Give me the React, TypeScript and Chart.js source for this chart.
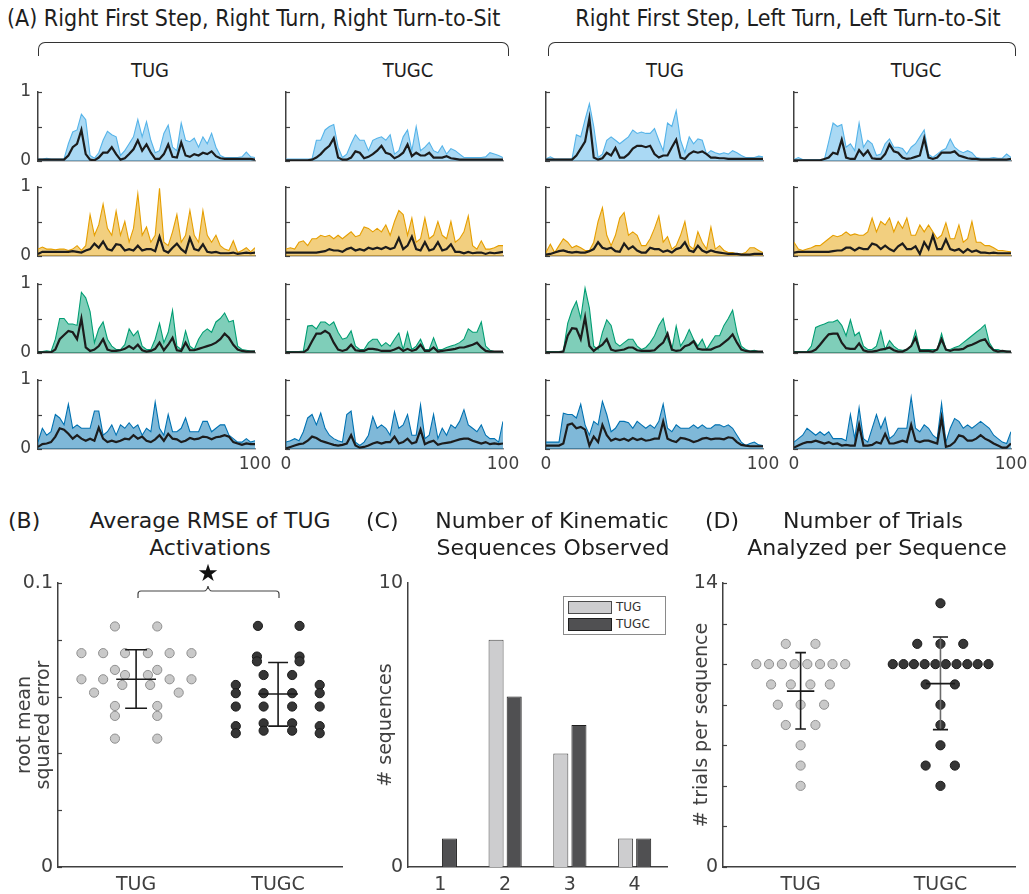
import React, { useEffect, useRef } from 'react';
import { Chart, registerables } from 'chart.js';

Chart.register(...registerables);

// ---------------- DATA ----------------
// Normalised time axis (% of task), sampled every 2 %
const XS = [0,2,4,6,8,10,12,14,16,18,20,22,24,26,28,30,32,34,36,38,40,42,44,46,48,50,52,54,56,58,60,62,64,66,68,70,72,74,76,78,80,82,84,86,88,90,92,94,96,98,100];

// Row 1 (light blue muscle)
const R1C1_MEAN = [0.02,0.02,0.02,0.02,0.02,0.02,0.02,0.08,0.2,0.25, 0.45,0.1,0.02,0.01,0.05,0.12,0.12,0.2,0.1,0.02, 0.04,0.1,0.17,0.3,0.15,0.24,0.12,0.03,0.03,0.1, 0.24,0.06,0.05,0.27,0.08,0.06,0.1,0.08,0.12,0.1, 0.14,0.07,0.04,0.03,0.03,0.03,0.03,0.03,0.03,0.03, 0.02];
const R1C1_ENV = [0.03,0.03,0.04,0.03,0.03,0.03,0.03,0.25,0.42,0.45, 0.68,0.6,0.08,0.04,0.12,0.3,0.43,0.38,0.35,0.08, 0.15,0.25,0.35,0.6,0.35,0.57,0.3,0.12,0.15,0.4, 0.52,0.2,0.15,0.55,0.3,0.28,0.33,0.2,0.35,0.25, 0.4,0.2,0.08,0.05,0.05,0.05,0.05,0.06,0.13,0.06, 0.05];
const R1C2_MEAN = [0.01,0.01,0.01,0.01,0.01,0.01,0.02,0.05,0.1,0.17, 0.22,0.33,0.05,0.02,0.02,0.05,0.14,0.12,0.04,0.06, 0.1,0.15,0.22,0.12,0.1,0.04,0.07,0.12,0.24,0.07, 0.12,0.08,0.08,0.12,0.05,0.05,0.05,0.07,0.04,0.03, 0.02,0.02,0.02,0.02,0.02,0.02,0.02,0.02,0.02,0.02, 0.02];
const R1C2_ENV = [0.03,0.03,0.03,0.03,0.03,0.03,0.03,0.3,0.3,0.45, 0.5,0.53,0.2,0.05,0.1,0.25,0.38,0.3,0.3,0.15, 0.3,0.33,0.35,0.3,0.38,0.1,0.15,0.35,0.45,0.15, 0.5,0.15,0.2,0.27,0.15,0.12,0.22,0.1,0.18,0.15, 0.1,0.05,0.05,0.05,0.05,0.05,0.06,0.12,0.1,0.08, 0.05];
const R1C3_MEAN = [0.02,0.02,0.02,0.02,0.02,0.02,0.02,0.08,0.18,0.28, 0.62,0.05,0.02,0.04,0.12,0.08,0.19,0.05,0.05,0.1, 0.18,0.22,0.22,0.2,0.22,0.1,0.05,0.08,0.08,0.2, 0.31,0.05,0.03,0.1,0.14,0.12,0.14,0.1,0.05,0.05, 0.04,0.04,0.03,0.03,0.03,0.03,0.03,0.03,0.03,0.03, 0.03];
const R1C3_ENV = [0.03,0.06,0.03,0.03,0.03,0.03,0.03,0.38,0.35,0.6, 0.83,0.5,0.05,0.1,0.3,0.35,0.3,0.25,0.3,0.35, 0.45,0.4,0.42,0.4,0.4,0.47,0.3,0.15,0.55,0.5, 0.73,0.3,0.12,0.35,0.25,0.32,0.3,0.1,0.15,0.12, 0.1,0.12,0.1,0.15,0.12,0.08,0.05,0.05,0.05,0.07, 0.06];
const R1C4_MEAN = [0.01,0.01,0.01,0.01,0.01,0.01,0.01,0.03,0.05,0.12, 0.1,0.31,0.05,0.03,0.03,0.16,0.08,0.15,0.04,0.03, 0.03,0.1,0.24,0.14,0.12,0.05,0.03,0.04,0.06,0.08, 0.33,0.05,0.03,0.05,0.12,0.12,0.12,0.14,0.08,0.06, 0.04,0.03,0.03,0.02,0.02,0.02,0.02,0.02,0.02,0.02, 0.03];
const R1C4_ENV = [0.02,0.05,0.02,0.02,0.02,0.02,0.02,0.02,0.28,0.55, 0.5,0.53,0.2,0.25,0.15,0.55,0.2,0.3,0.25,0.08, 0.1,0.25,0.32,0.2,0.2,0.18,0.1,0.2,0.25,0.35, 0.45,0.1,0.05,0.1,0.15,0.18,0.32,0.2,0.15,0.12, 0.15,0.12,0.05,0.04,0.04,0.04,0.05,0.04,0.04,0.1, 0.05];

// Row 2 (orange muscle)
const R2C1_MEAN = [0.03,0.06,0.06,0.06,0.06,0.06,0.06,0.06,0.07,0.06, 0.05,0.08,0.1,0.18,0.12,0.21,0.1,0.08,0.17,0.16, 0.08,0.1,0.08,0.15,0.08,0.1,0.1,0.07,0.28,0.08, 0.05,0.12,0.18,0.1,0.05,0.26,0.1,0.08,0.17,0.06, 0.05,0.06,0.04,0.04,0.04,0.05,0.03,0.04,0.05,0.04, 0.05];
const R2C1_ENV = [0.1,0.13,0.1,0.1,0.09,0.1,0.1,0.08,0.1,0.15, 0.08,0.15,0.6,0.3,0.45,0.75,0.4,0.3,0.65,0.3, 0.5,0.2,0.4,0.9,0.3,0.42,0.2,0.3,0.98,0.2, 0.15,0.35,0.6,0.2,0.3,0.66,0.3,0.2,0.66,0.3, 0.2,0.3,0.15,0.1,0.08,0.22,0.05,0.08,0.12,0.06, 0.12];
const R2C2_MEAN = [0.05,0.05,0.05,0.05,0.05,0.05,0.05,0.05,0.06,0.07, 0.1,0.08,0.08,0.06,0.1,0.12,0.08,0.1,0.08,0.12, 0.1,0.12,0.1,0.13,0.1,0.12,0.26,0.1,0.15,0.28, 0.1,0.08,0.2,0.08,0.1,0.2,0.08,0.1,0.17,0.06, 0.06,0.04,0.06,0.04,0.05,0.05,0.03,0.05,0.04,0.05, 0.06];
const R2C2_ENV = [0.1,0.12,0.1,0.2,0.22,0.15,0.25,0.25,0.3,0.28, 0.3,0.25,0.3,0.25,0.3,0.35,0.28,0.3,0.42,0.4, 0.35,0.4,0.35,0.45,0.3,0.5,0.66,0.6,0.3,0.55, 0.2,0.25,0.55,0.25,0.3,0.5,0.3,0.25,0.5,0.2, 0.25,0.35,0.58,0.15,0.1,0.22,0.1,0.1,0.12,0.15, 0.15];
const R2C3_MEAN = [0.02,0.03,0.05,0.07,0.08,0.06,0.05,0.06,0.05,0.05, 0.07,0.1,0.2,0.12,0.1,0.12,0.07,0.06,0.18,0.1, 0.14,0.08,0.05,0.05,0.12,0.1,0.1,0.06,0.08,0.05, 0.1,0.12,0.2,0.08,0.06,0.15,0.08,0.05,0.08,0.06, 0.05,0.04,0.03,0.03,0.03,0.02,0.02,0.02,0.03,0.03, 0.03];
const R2C3_ENV = [0.05,0.17,0.05,0.15,0.25,0.2,0.12,0.15,0.12,0.08, 0.08,0.2,0.5,0.7,0.3,0.15,0.3,0.55,0.63,0.3, 0.35,0.3,0.15,0.15,0.25,0.4,0.58,0.2,0.28,0.1, 0.15,0.3,0.5,0.15,0.1,0.35,0.2,0.1,0.42,0.1, 0.15,0.08,0.05,0.05,0.03,0.03,0.05,0.12,0.12,0.08, 0.05];
const R2C4_MEAN = [0.05,0.06,0.06,0.06,0.06,0.06,0.06,0.06,0.06,0.07, 0.08,0.08,0.12,0.12,0.08,0.12,0.1,0.1,0.18,0.16, 0.1,0.15,0.1,0.07,0.14,0.18,0.1,0.1,0.14,0.03, 0.2,0.1,0.3,0.1,0.1,0.24,0.1,0.08,0.1,0.05, 0.1,0.06,0.08,0.05,0.05,0.04,0.05,0.04,0.04,0.04, 0.04];
const R2C4_ENV = [0.2,0.1,0.08,0.1,0.12,0.15,0.15,0.2,0.25,0.3, 0.28,0.3,0.35,0.3,0.32,0.3,0.3,0.35,0.55,0.35, 0.5,0.45,0.55,0.35,0.5,0.4,0.55,0.3,0.3,0.45, 0.35,0.45,0.35,0.25,0.3,0.48,0.25,0.25,0.45,0.2, 0.25,0.5,0.2,0.2,0.15,0.15,0.12,0.08,0.08,0.07, 0.06];

// Row 3 (green muscle)
const R3C1_MEAN = [0.01,0.01,0.01,0.01,0.05,0.2,0.26,0.32,0.3,0.2, 0.5,0.08,0.03,0.05,0.1,0.2,0.05,0.03,0.03,0.04, 0.06,0.1,0.06,0.12,0.04,0.02,0.03,0.06,0.15,0.04, 0.12,0.22,0.04,0.03,0.15,0.04,0.04,0.06,0.08,0.1, 0.12,0.15,0.2,0.28,0.22,0.12,0.05,0.03,0.02,0.02, 0.02];
const R3C1_ENV = [0.02,0.02,0.03,0.02,0.2,0.5,0.5,0.42,0.42,0.4, 0.88,0.8,0.6,0.15,0.35,0.45,0.2,0.1,0.05,0.05, 0.12,0.35,0.25,0.32,0.1,0.05,0.05,0.2,0.43,0.15, 0.3,0.62,0.1,0.05,0.32,0.1,0.05,0.2,0.3,0.35, 0.3,0.45,0.5,0.58,0.45,0.47,0.1,0.05,0.04,0.03, 0.03];
const R3C2_MEAN = [0.01,0.01,0.01,0.01,0.01,0.05,0.17,0.28,0.28,0.32, 0.28,0.15,0.05,0.03,0.05,0.12,0.04,0.03,0.03,0.06, 0.06,0.05,0.03,0.03,0.03,0.05,0.08,0.03,0.06,0.03, 0.05,0.12,0.03,0.03,0.08,0.02,0.03,0.04,0.05,0.06, 0.08,0.08,0.1,0.12,0.15,0.08,0.03,0.02,0.02,0.02, 0.02];
const R3C2_ENV = [0.02,0.02,0.02,0.02,0.03,0.39,0.4,0.35,0.45,0.45, 0.4,0.45,0.3,0.2,0.22,0.32,0.1,0.05,0.05,0.15, 0.2,0.2,0.1,0.15,0.1,0.2,0.29,0.05,0.3,0.05, 0.1,0.2,0.05,0.05,0.22,0.05,0.05,0.08,0.1,0.12, 0.15,0.2,0.35,0.3,0.3,0.45,0.1,0.04,0.02,0.02, 0.02];
const R3C3_MEAN = [0.01,0.01,0.01,0.01,0.02,0.25,0.36,0.35,0.2,0.52, 0.1,0.03,0.08,0.12,0.2,0.05,0.03,0.04,0.05,0.08, 0.08,0.04,0.03,0.03,0.03,0.04,0.1,0.15,0.28,0.05, 0.03,0.04,0.1,0.12,0.17,0.06,0.05,0.05,0.05,0.08, 0.1,0.15,0.2,0.27,0.15,0.05,0.03,0.02,0.02,0.02, 0.02];
const R3C3_ENV = [0.02,0.02,0.02,0.02,0.03,0.43,0.62,0.75,0.5,0.94, 0.65,0.1,0.05,0.3,0.48,0.4,0.15,0.1,0.15,0.2, 0.2,0.1,0.05,0.08,0.15,0.25,0.4,0.5,0.2,0.05, 0.39,0.1,0.2,0.34,0.2,0.1,0.2,0.05,0.15,0.25, 0.25,0.4,0.5,0.62,0.3,0.1,0.05,0.03,0.04,0.02, 0.02];
const R3C4_MEAN = [0.01,0.01,0.01,0.01,0.02,0.05,0.12,0.2,0.27,0.28, 0.28,0.15,0.07,0.06,0.06,0.14,0.04,0.02,0.02,0.03, 0.05,0.06,0.08,0.04,0.02,0.02,0.05,0.1,0.22,0.03, 0.03,0.03,0.02,0.05,0.2,0.05,0.03,0.05,0.05,0.06, 0.1,0.12,0.15,0.18,0.2,0.1,0.04,0.02,0.03,0.02, 0.02];
const R3C4_ENV = [0.02,0.02,0.02,0.02,0.1,0.37,0.4,0.42,0.45,0.45, 0.48,0.4,0.25,0.48,0.25,0.3,0.1,0.05,0.05,0.1, 0.32,0.05,0.18,0.1,0.05,0.04,0.05,0.1,0.32,0.05, 0.05,0.05,0.05,0.05,0.28,0.05,0.05,0.08,0.1,0.15, 0.2,0.25,0.3,0.35,0.41,0.15,0.05,0.05,0.03,0.03, 0.02];

// Row 4 (dark blue muscle)
const R4C1_MEAN = [0.03,0.07,0.08,0.1,0.18,0.3,0.28,0.22,0.15,0.2, 0.15,0.12,0.15,0.12,0.31,0.15,0.1,0.12,0.1,0.12, 0.15,0.14,0.2,0.15,0.18,0.12,0.1,0.14,0.2,0.12, 0.22,0.15,0.14,0.1,0.12,0.16,0.14,0.15,0.18,0.17, 0.14,0.17,0.18,0.2,0.18,0.1,0.08,0.06,0.08,0.07, 0.07];
const R4C1_ENV = [0.1,0.3,0.2,0.25,0.5,0.45,0.35,0.65,0.3,0.35, 0.3,0.3,0.3,0.55,0.55,0.2,0.25,0.35,0.2,0.35, 0.3,0.38,0.3,0.35,0.2,0.3,0.25,0.68,0.3,0.2, 0.5,0.25,0.25,0.3,0.45,0.25,0.25,0.25,0.4,0.4, 0.25,0.3,0.35,0.35,0.2,0.15,0.1,0.1,0.15,0.1, 0.12];
const R4C2_MEAN = [0.01,0.03,0.05,0.07,0.08,0.12,0.18,0.16,0.12,0.1, 0.08,0.06,0.05,0.06,0.08,0.2,0.05,0.02,0.03,0.05, 0.08,0.1,0.08,0.1,0.1,0.18,0.08,0.1,0.15,0.08, 0.1,0.28,0.07,0.1,0.12,0.06,0.08,0.09,0.1,0.12, 0.14,0.15,0.15,0.12,0.1,0.08,0.1,0.07,0.08,0.07, 0.08];
const R4C2_ENV = [0.1,0.12,0.15,0.12,0.25,0.45,0.5,0.35,0.52,0.3, 0.2,0.15,0.12,0.1,0.5,0.55,0.1,0.05,0.1,0.2, 0.47,0.3,0.35,0.3,0.2,0.54,0.3,0.35,0.5,0.2, 0.2,0.64,0.15,0.2,0.5,0.15,0.3,0.2,0.35,0.3, 0.4,0.57,0.35,0.3,0.25,0.35,0.2,0.15,0.15,0.1, 0.4];
const R4C3_MEAN = [0.05,0.05,0.05,0.05,0.08,0.35,0.37,0.3,0.32,0.28, 0.05,0.18,0.1,0.35,0.2,0.12,0.15,0.13,0.15,0.12, 0.16,0.13,0.15,0.12,0.13,0.15,0.15,0.4,0.15,0.12, 0.1,0.16,0.15,0.13,0.1,0.12,0.15,0.16,0.14,0.15, 0.15,0.14,0.17,0.16,0.1,0.06,0.05,0.04,0.04,0.04, 0.04];
const R4C3_ENV = [0.1,0.1,0.1,0.1,0.52,0.5,0.5,0.45,0.65,0.35, 0.2,0.4,0.35,0.69,0.5,0.25,0.3,0.4,0.4,0.38, 0.3,0.4,0.35,0.3,0.35,0.3,0.4,0.65,0.3,0.25, 0.35,0.3,0.3,0.3,0.35,0.3,0.35,0.3,0.3,0.35, 0.35,0.32,0.35,0.3,0.2,0.1,0.05,0.08,0.1,0.06, 0.05];
const R4C4_MEAN = [0.02,0.05,0.08,0.1,0.1,0.12,0.1,0.08,0.1,0.07, 0.08,0.05,0.06,0.05,0.05,0.35,0.05,0.05,0.06,0.1, 0.08,0.22,0.08,0.08,0.1,0.12,0.1,0.35,0.12,0.1, 0.12,0.12,0.1,0.08,0.45,0.03,0.05,0.1,0.2,0.18, 0.12,0.12,0.15,0.2,0.15,0.12,0.08,0.05,0.02,0.02, 0.08];
const R4C4_ENV = [0.1,0.15,0.2,0.3,0.25,0.2,0.25,0.2,0.25,0.15, 0.15,0.15,0.12,0.5,0.15,0.6,0.15,0.1,0.3,0.5, 0.3,0.45,0.15,0.2,0.3,0.3,0.3,0.75,0.3,0.25, 0.35,0.3,0.2,0.15,0.66,0.1,0.3,0.44,0.4,0.3, 0.35,0.3,0.35,0.4,0.35,0.3,0.2,0.15,0.1,0.08, 0.25];

const MEANS = [
  [R1C1_MEAN, R1C2_MEAN, R1C3_MEAN, R1C4_MEAN],
  [R2C1_MEAN, R2C2_MEAN, R2C3_MEAN, R2C4_MEAN],
  [R3C1_MEAN, R3C2_MEAN, R3C3_MEAN, R3C4_MEAN],
  [R4C1_MEAN, R4C2_MEAN, R4C3_MEAN, R4C4_MEAN],
];
const ENVS = [
  [R1C1_ENV, R1C2_ENV, R1C3_ENV, R1C4_ENV],
  [R2C1_ENV, R2C2_ENV, R2C3_ENV, R2C4_ENV],
  [R3C1_ENV, R3C2_ENV, R3C3_ENV, R3C4_ENV],
  [R4C1_ENV, R4C2_ENV, R4C3_ENV, R4C4_ENV],
];

const GROUPS = ['TUG', 'TUGC'];

// Panel B: average RMSE (value and beeswarm jitter)
const RMSE_TUG = [0.0847,0.0847, 0.0753,0.0753,0.0753,0.0753,0.0753,0.0753, 0.0694,0.0694, 0.0676,0.0676, 0.0661,0.0661,0.0661,0.0661, 0.0641,0.0641, 0.0614,0.0614, 0.0567,0.0567, 0.0532,0.0532, 0.0452,0.0452];
const RMSE_TUG_JIT = [-0.149,0.149, -0.385,-0.232,-0.078,0.083,0.236,0.39, -0.149,0.149, -0.078,0.083, -0.385,-0.232,0.236,0.39, -0.097,0.099, -0.296,0.3, -0.149,0.149, -0.149,0.149, -0.149,0.149];
const RMSE_TUGC = [0.0849,0.0849, 0.0741,0.0741, 0.0724,0.0724, 0.0676,0.0676, 0.0641,0.0641, 0.0612,0.0612,0.0612,0.0612, 0.0565,0.0565,0.0565,0.0565, 0.0506,0.0506, 0.0496,0.0496, 0.048,0.048, 0.0471,0.0471];
const RMSE_TUGC_JIT = [-0.142,0.151, -0.149,0.151, -0.149,0.151, -0.102,0.099, -0.298,0.293, -0.298,-0.102,0.099,0.293, -0.298,-0.102,0.099,0.293, -0.102,0.099, -0.298,0.293, -0.102,0.099, -0.298,0.293];
const RMSE_MEAN = [0.0661, 0.0609];
const RMSE_LO = [0.0559, 0.0496];
const RMSE_HI = [0.0765, 0.072];

// Panel C: number of kinematic sequences
const SEQ_CATS = ['1', '2', '3', '4'];
const SEQ_TUG = [0, 8, 4, 1];
const SEQ_TUGC = [1, 6, 5, 1];

// Panel D: trials per sequence
const TRIALS_TUG = [11,11, 10,10,10,10,10,10,10,10, 9,9,9,9, 8,8,8, 7,7, 6, 5, 4];
const TRIALS_TUG_JIT = [-0.106,0.106, -0.317,-0.226,-0.134,-0.043,0.048,0.139,0.228,0.319, -0.211,-0.07,0.07,0.209, -0.163,0,0.168, -0.106,0.106, 0, 0, 0];
const TRIALS_TUGC = [13, 11,11,11, 10,10,10,10,10,10,10,10,10,10, 9,9, 8, 7, 6, 5,5, 4];
const TRIALS_TUGC_JIT = [0, -0.166,0,0.163, -0.341,-0.264,-0.19,-0.113,-0.036,0.038,0.115,0.192,0.266,0.343, -0.106,0.103, 0, 0, 0, -0.106,0.103, 0];
const TRIALS_MEAN = [8.67, 9.04];
const TRIALS_LO = [6.8, 6.77];
const TRIALS_HI = [10.57, 11.34];

// ---------------- STYLE / LAYOUT ----------------
const FONT = "'DejaVu Sans', Verdana, sans-serif";
const COND = "'DejaVu Sans Condensed', 'Liberation Sans Narrow', 'DejaVu Sans', sans-serif";
const AXIS = '#404040';
const ROW_COLORS = ['#56B4E9', '#E69F00', '#009E73', '#0072B2'];
const COL_LEFT = [38, 286, 546, 794];
const ROW_TOP = [92, 187, 284, 380];
const PW = 217;
const PH = 69;
const A_YW = 30, A_PT = 18, A_PR = 24, A_XH = 18, A_XH_BOTTOM = 26;

Chart.defaults.font.family = FONT;
Chart.defaults.color = AXIS;

function rgba(hex, a) {
  const n = parseInt(hex.slice(1), 16);
  return `rgba(${n >> 16},${(n >> 8) & 255},${n & 255},${a})`;
}

const innerTicks = {
  id: 'innerTicks',
  afterDraw(chart, _args, opts) {
    if (!opts || !opts.len) return;
    const { ctx, chartArea } = chart;
    const ys = chart.scales.y;
    ctx.save();
    ctx.strokeStyle = opts.color || AXIS;
    ctx.lineWidth = 1.2;
    ys.ticks.forEach((t) => {
      const py = Math.round(ys.getPixelForValue(t.value)) + 0.5;
      ctx.beginPath();
      ctx.moveTo(chartArea.left, py);
      ctx.lineTo(chartArea.left + opts.len, py);
      ctx.stroke();
    });
    ctx.restore();
  },
};

function ChartCanvas({ left, top, width, height, make }) {
  const ref = useRef(null);
  useEffect(() => {
    const c = new Chart(ref.current, make());
    return () => c.destroy();
  }, []);
  return (
    <canvas
      ref={ref}
      width={width}
      height={height}
      style={{ position: 'absolute', left, top, width, height }}
    />
  );
}

function smallConfig(row, col) {
  const color = ROW_COLORS[row];
  const mean = MEANS[row][col];
  const env = ENVS[row][col];
  const bottom = row === 3;
  return {
    type: 'line',
    data: {
      datasets: [
        {
          data: mean.map((y, i) => ({ x: XS[i], y })),
          borderColor: '#1c1c1c',
          borderWidth: 2.2,
          pointRadius: 0,
          fill: false,
          order: 0,
        },
        {
          data: env.map((y, i) => ({ x: XS[i], y })),
          borderColor: color,
          borderWidth: 1.1,
          backgroundColor: rgba(color, 0.5),
          fill: 'origin',
          pointRadius: 0,
          order: 1,
        },
      ],
    },
    plugins: [innerTicks],
    options: {
      animation: false,
      responsive: false,
      devicePixelRatio: 1,
      layout: { padding: { top: A_PT, right: A_PR, left: 0, bottom: 0 } },
      plugins: {
        legend: { display: false },
        tooltip: { enabled: false },
        innerTicks: { len: 4, color: AXIS },
      },
      scales: {
        x: {
          type: 'linear',
          min: 0,
          max: 100,
          grid: { display: false, drawTicks: false },
          border: { display: true, color: '#8a8a8a', width: 1.5 },
          ticks: {
            display: bottom,
            font: { size: 17 },
            color: AXIS,
            padding: 5,
            maxRotation: 0,
            callback: (v) => (bottom && (col > 0 || v === 100) ? String(v) : ''),
          },
          afterBuildTicks: (s) => {
            s.ticks = [{ value: 0 }, { value: 100 }];
          },
          afterFit: (s) => {
            s.height = bottom ? A_XH_BOTTOM : A_XH;
          },
        },
        y: {
          min: 0,
          max: 1,
          grid: { display: false, drawTicks: false },
          border: { display: true, color: AXIS, width: 1.5 },
          ticks: {
            font: { size: 17 },
            color: AXIS,
            padding: 7,
            callback: (v) => (col === 0 && (v === 0 || v === 1) ? String(v) : ''),
          },
          afterBuildTicks: (s) => {
            s.ticks = [0, 0.5, 1].map((value) => ({ value }));
          },
          afterFit: (s) => {
            s.width = A_YW;
          },
        },
      },
    },
  };
}

function errorBar(x, mean, lo, hi, halfMean, halfCap, color, vColor) {
  return [
    {
      type: 'scatter',
      showLine: true,
      spanGaps: false,
      data: [
        { x: x - halfCap, y: hi }, { x: x + halfCap, y: hi }, { x, y: null },
        { x: x - halfCap, y: lo }, { x: x + halfCap, y: lo }, { x, y: null },
        { x: x - halfMean, y: mean }, { x: x + halfMean, y: mean },
      ],
      borderColor: color,
      borderWidth: 1.6,
      pointRadius: 0,
      order: 0,
    },
    {
      type: 'scatter',
      showLine: true,
      data: [{ x, y: lo }, { x, y: hi }],
      borderColor: vColor || color,
      borderWidth: 1.6,
      pointRadius: 0,
      order: 0,
    },
  ];
}

const LIGHT = { bg: '#c9c9c9', border: '#8f8f8f' };
const DARK = { bg: '#363636', border: '#1a1a1a' };

function dotSet(values, jit, center, style, radius) {
  return {
    type: 'scatter',
    data: values.map((y, i) => ({ x: center + jit[i], y })),
    pointRadius: radius,
    pointBackgroundColor: style.bg,
    pointBorderColor: style.border,
    pointBorderWidth: 1,
    order: 2,
  };
}

function baseScales(opts) {
  return {
    x: {
      type: 'linear',
      min: opts.xmin,
      max: opts.xmax,
      grid: { display: false, drawTicks: false },
      border: { display: true, color: AXIS, width: 1.5 },
      ticks: { font: { size: 19 }, color: AXIS, padding: 7, maxRotation: 0, callback: (v) => GROUPS[v - 1] || '' },
      afterBuildTicks: (s) => {
        s.ticks = [{ value: 1 }, { value: 2 }];
      },
      afterFit: (s) => {
        s.height = 30;
      },
    },
    y: {
      min: 0,
      max: opts.ymax,
      grid: { display: false, drawTicks: false },
      border: { display: true, color: AXIS, width: 1.5 },
      ticks: {
        font: { size: 19 },
        color: AXIS,
        padding: 5,
        callback: (v) => (v === 0 || Math.abs(v - opts.ymax) < 1e-9 ? opts.fmt(v) : ''),
      },
      afterBuildTicks: (s) => {
        s.ticks = opts.yticks.map((value) => ({ value }));
      },
      afterFit: (s) => {
        s.width = opts.yw;
      },
      title: {
        display: true,
        text: opts.title,
        color: AXIS,
        font: { size: 19, lineHeight: 1.0 },
        padding: { top: opts.titlePad, bottom: 0 },
      },
    },
  };
}

function commonOptions(scales, ticksLen) {
  return {
    animation: false,
    responsive: false,
    devicePixelRatio: 1,
    layout: { padding: { top: 23, right: 10, left: 0, bottom: 0 } },
    plugins: { legend: { display: false }, tooltip: { enabled: false }, innerTicks: { len: ticksLen, color: AXIS } },
    scales,
  };
}

function configB() {
  return {
    type: 'scatter',
    data: {
      datasets: [
        ...errorBar(1, RMSE_MEAN[0], RMSE_LO[0], RMSE_HI[0], 0.14, 0.077, '#1a1a1a'),
        ...errorBar(2, RMSE_MEAN[1], RMSE_LO[1], RMSE_HI[1], 0.14, 0.07, '#1a1a1a'),
        dotSet(RMSE_TUG, RMSE_TUG_JIT, 1, LIGHT, 4.6),
        dotSet(RMSE_TUGC, RMSE_TUGC_JIT, 2, DARK, 4.6),
      ],
    },
    plugins: [innerTicks],
    options: commonOptions(
      baseScales({
        xmin: 0.45, xmax: 2.45, ymax: 0.1,
        yticks: [0, 0.02, 0.04, 0.06, 0.08, 0.1],
        fmt: (v) => (v === 0 ? '0' : '0.1'),
        yw: 58, title: ['root mean', 'squared error'], titlePad: 16,
      }),
      4
    ),
  };
}

function configC() {
  return {
    type: 'bar',
    data: {
      labels: SEQ_CATS,
      datasets: [
        { label: 'TUG', data: SEQ_TUG, backgroundColor: '#cdcdcf', borderColor: '#4a4a4a', borderWidth: 1, categoryPercentage: 0.56, barPercentage: 0.83 },
        { label: 'TUGC', data: SEQ_TUGC, backgroundColor: '#505052', borderColor: '#1e1e1e', borderWidth: 1, categoryPercentage: 0.56, barPercentage: 0.83 },
      ],
    },
    options: {
      animation: false,
      responsive: false,
      devicePixelRatio: 1,
      layout: { padding: { top: 23, right: 10, left: 0, bottom: 0 } },
      plugins: { legend: { display: false }, tooltip: { enabled: false } },
      scales: {
        x: {
          grid: { display: false, drawTicks: false },
          border: { display: true, color: AXIS, width: 1.5 },
          ticks: { font: { size: 19 }, color: AXIS, padding: 7 },
          afterFit: (s) => {
            s.height = 30;
          },
        },
        y: {
          min: 0,
          max: 10,
          grid: { display: false, drawTicks: false },
          border: { display: true, color: AXIS, width: 1.5 },
          ticks: { font: { size: 19 }, color: AXIS, padding: 5 },
          afterBuildTicks: (s) => {
            s.ticks = [{ value: 0 }, { value: 10 }];
          },
          afterFit: (s) => {
            s.width = 48;
          },
          title: { display: true, text: '# sequences', color: AXIS, font: { size: 19, lineHeight: 1.0 }, padding: { top: 17, bottom: 0 } },
        },
      },
    },
  };
}

function configD() {
  return {
    type: 'scatter',
    data: {
      datasets: [
        ...errorBar(1, TRIALS_MEAN[0], TRIALS_LO[0], TRIALS_HI[0], 0.098, 0.038, '#1a1a1a'),
        ...errorBar(2, TRIALS_MEAN[1], TRIALS_LO[1], TRIALS_HI[1], 0.104, 0.054, '#1a1a1a', '#6a6a6a'),
        dotSet(TRIALS_TUG, TRIALS_TUG_JIT, 1, LIGHT, 4.6),
        dotSet(TRIALS_TUGC, TRIALS_TUGC_JIT, 2, DARK, 4.6),
      ],
    },
    plugins: [innerTicks],
    options: commonOptions(
      baseScales({
        xmin: 0.445, xmax: 2.533, ymax: 14,
        yticks: [0, 2, 4, 6, 8, 10, 12, 14],
        fmt: (v) => String(v),
        yw: 38, title: '# trials per sequence', titlePad: 8,
      }),
      4
    ),
  };
}

function Txt({ x, y, size, children, anchor = 'middle', family = FONT, color = '#1e1e1e' }) {
  const tx = anchor === 'start' ? '0' : anchor === 'end' ? '-100%' : '-50%';
  return (
    <div
      style={{
        position: 'absolute', left: x, top: y, transform: `translate(${tx},-50%)`,
        fontSize: size, fontFamily: family, color, whiteSpace: 'nowrap', lineHeight: 1,
      }}
    >
      {children}
    </div>
  );
}

function Bracket({ x1, x2, y, h }) {
  return (
    <div
      style={{
        position: 'absolute', left: x1, top: y, width: x2 - x1, height: h,
        borderTop: '1.5px solid #333', borderLeft: '1.5px solid #333', borderRight: '1.5px solid #333',
        borderRadius: '7px 7px 0 0', boxSizing: 'border-box',
      }}
    />
  );
}

export default function App() {
  const small = [];
  for (let r = 0; r < 4; r++) {
    for (let c = 0; c < 4; c++) {
      const h = A_PT + PH + (r === 3 ? A_XH_BOTTOM : A_XH);
      small.push(
        <ChartCanvas
          key={`p${r}${c}`}
          left={COL_LEFT[c] - A_YW}
          top={ROW_TOP[r] - A_PT}
          width={A_YW + PW + A_PR}
          height={h}
          make={() => smallConfig(r, c)}
        />
      );
    }
  }
  return (
    <div style={{ position: 'absolute', left: 0, top: 0, width: 1029, height: 894, overflow: 'hidden', background: '#fff' }}>
      {/* Panel A headers */}
      <Txt x={7} y={18} size={23} anchor="start" family={COND}>(A) Right First Step, Right Turn, Right Turn-to-Sit</Txt>
      <Txt x={788} y={18} size={23} family={COND}>Right First Step, Left Turn, Left Turn-to-Sit</Txt>
      <Bracket x1={38} x2={509} y={42} h={14} />
      <Bracket x1={548} x2={1016} y={42} h={14} />
      <Txt x={150} y={70} size={20} family={COND}>TUG</Txt>
      <Txt x={408} y={70} size={20} family={COND}>TUGC</Txt>
      <Txt x={665} y={70} size={20} family={COND}>TUG</Txt>
      <Txt x={916} y={70} size={20} family={COND}>TUGC</Txt>
      {small}

      {/* Panel B */}
      <Txt x={8} y={521} size={22} anchor="start">(B)</Txt>
      <Txt x={210} y={521} size={22}>Average RMSE of TUG</Txt>
      <Txt x={210} y={548} size={22}>Activations</Txt>
      <ChartCanvas left={0} top={560} width={352} height={337} make={configB} />
      <svg width={1029} height={894} style={{ position: 'absolute', left: 0, top: 0, pointerEvents: 'none' }}>
        <path
          d="M138 598 L138 594 Q138 591 141 591 L204 591 Q207 591 208 586 Q209 591 212 591 L276 591 Q279 591 279 594 L279 598"
          stroke="#444" strokeWidth={1.2} fill="none"
        />
      </svg>
      <Txt x={208} y={573} size={24} color="#111">★</Txt>

      {/* Panel C */}
      <Txt x={366} y={521} size={22} anchor="start">(C)</Txt>
      <Txt x={552} y={521} size={22}>Number of Kinematic</Txt>
      <Txt x={553} y={548} size={22}>Sequences Observed</Txt>
      <ChartCanvas left={360} top={560} width={317} height={337} make={configC} />
      <div style={{ position: 'absolute', left: 563, top: 596, width: 103, height: 39, border: '1px solid #8a8a8a', background: '#fff', boxSizing: 'border-box' }}>
        <div style={{ position: 'absolute', left: 4, top: 4, width: 44, height: 13, background: '#cdcdcf', border: '1px solid #4a4a4a', boxSizing: 'border-box' }} />
        <div style={{ position: 'absolute', left: 4, top: 21, width: 44, height: 13, background: '#505052', border: '1px solid #1e1e1e', boxSizing: 'border-box' }} />
        <div style={{ position: 'absolute', left: 52, top: 3, fontSize: 12, fontFamily: FONT, color: '#333', lineHeight: '15px' }}>TUG</div>
        <div style={{ position: 'absolute', left: 52, top: 20, fontSize: 12, fontFamily: FONT, color: '#333', lineHeight: '15px' }}>TUGC</div>
      </div>

      {/* Panel D */}
      <Txt x={705} y={521} size={22} anchor="start">(D)</Txt>
      <Txt x={873} y={521} size={22}>Number of Trials</Txt>
      <Txt x={877} y={548} size={22}>Analyzed per Sequence</Txt>
      <ChartCanvas left={685} top={560} width={340} height={337} make={configD} />
    </div>
  );
}
